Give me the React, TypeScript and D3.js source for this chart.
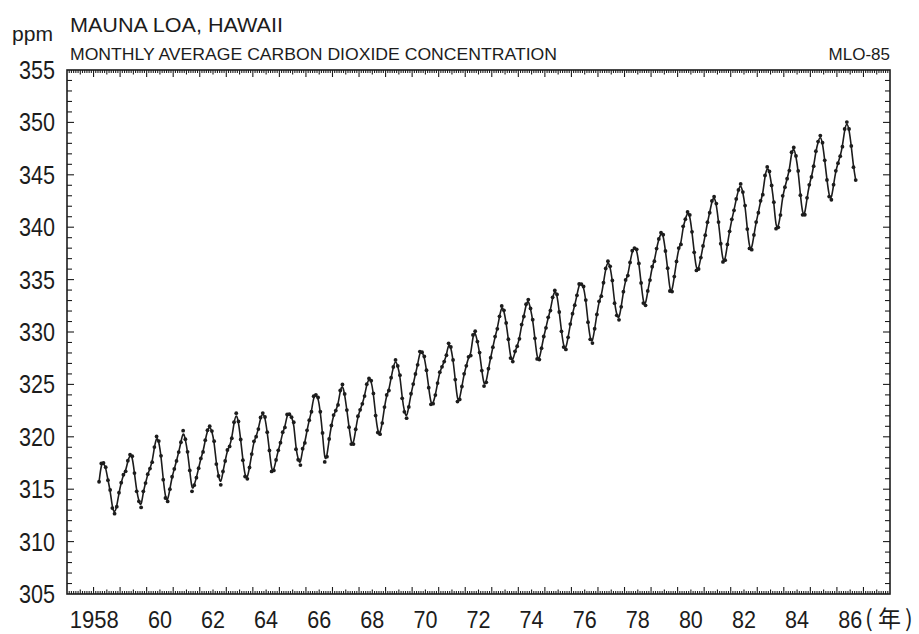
import React from 'react';
import * as d3 from 'd3';

// monthly means, Mar 1958 .. Sep 1986 (ppm)
const firstYear = 1958;
const firstMonth = 3;
const monthlyPpm = [
  315.71, 317.45, 317.5, 317.1, 315.86, 314.93, 313.2, 312.66, 313.33, 314.67, // 1958
  315.62, 316.38, 316.71, 317.72, 318.29, 318.15, 316.54, 314.8, 313.84, 313.26, 314.8, 315.58, // 1959
  316.43, 316.97, 317.58, 319.02, 320.03, 319.59, 318.18, 315.91, 314.16, 313.83, 315.0, 316.19, // 1960
  316.93, 317.7, 318.54, 319.48, 320.58, 319.77, 318.57, 316.79, 314.8, 315.38, 316.1, 317.01, // 1961
  317.94, 318.56, 319.68, 320.63, 321.01, 320.55, 319.58, 317.4, 316.26, 315.42, 316.69, 317.69, // 1962
  318.74, 319.08, 319.86, 321.39, 322.25, 321.47, 319.74, 317.77, 316.21, 315.99, 317.07, 318.35, // 1963
  319.57, 320.01, 320.74, 321.84, 322.26, 321.89, 320.44, 318.7, 316.7, 316.79, 317.79, 318.71, // 1964
  319.44, 320.44, 320.89, 322.13, 322.16, 321.87, 321.39, 318.81, 317.81, 317.3, 318.87, 319.42, // 1965
  320.62, 321.59, 322.39, 323.87, 324.01, 323.75, 322.39, 320.37, 317.6, 318.1, 319.79, 321.08, // 1966
  322.07, 322.5, 323.04, 324.42, 325.0, 324.09, 322.55, 320.92, 319.31, 319.31, 320.72, 321.96, // 1967
  322.57, 323.15, 323.89, 325.02, 325.57, 325.36, 324.14, 322.03, 320.41, 320.25, 321.31, 322.84, // 1968
  324.0, 324.42, 325.64, 326.66, 327.34, 326.76, 325.88, 323.67, 322.38, 321.78, 322.85, 324.11, // 1969
  325.03, 325.99, 326.87, 328.13, 328.07, 327.66, 326.35, 324.69, 323.1, 323.16, 323.98, 325.13, // 1970
  326.17, 326.68, 327.18, 327.78, 328.92, 328.57, 327.34, 325.46, 323.36, 323.57, 324.8, 326.01, // 1971
  326.77, 327.63, 327.75, 329.72, 330.07, 329.09, 328.04, 326.32, 324.84, 325.2, 326.5, 327.55, // 1972
  328.55, 329.56, 330.3, 331.5, 332.48, 332.07, 330.87, 329.31, 327.51, 327.18, 328.16, 328.64, // 1973
  329.35, 330.71, 331.48, 332.65, 333.09, 332.25, 331.18, 329.4, 327.43, 327.37, 328.46, 329.57, // 1974
  330.4, 331.4, 332.04, 333.31, 333.96, 333.59, 331.91, 330.06, 328.56, 328.34, 329.49, 330.76, // 1975
  331.75, 332.56, 333.5, 334.58, 334.57, 334.34, 333.05, 330.94, 329.3, 328.94, 330.31, 331.68, // 1976
  332.93, 333.42, 334.7, 336.07, 336.75, 336.27, 334.92, 332.75, 331.59, 331.16, 332.4, 333.85, // 1977
  334.97, 335.38, 336.64, 337.76, 338.01, 337.89, 336.54, 334.68, 332.76, 332.55, 333.92, 334.95, // 1978
  336.23, 336.76, 337.96, 338.88, 339.47, 339.29, 337.73, 336.09, 333.91, 333.86, 335.29, 336.73, // 1979
  338.01, 338.36, 340.08, 340.77, 341.46, 341.17, 339.56, 337.6, 335.88, 336.01, 337.1, 338.21, // 1980
  339.24, 340.48, 341.38, 342.51, 342.91, 342.25, 340.49, 338.43, 336.69, 336.85, 338.36, 339.61, // 1981
  340.75, 341.61, 342.7, 343.56, 344.13, 343.35, 342.06, 339.82, 337.97, 337.86, 339.26, 340.49, // 1982
  341.38, 342.52, 343.1, 344.94, 345.75, 345.32, 343.99, 342.39, 339.86, 339.99, 341.16, 342.99, // 1983
  343.82, 344.63, 345.4, 347.15, 347.61, 346.8, 345.37, 343.06, 341.18, 341.19, 342.8, 344.04, // 1984
  344.79, 345.82, 347.25, 348.17, 348.74, 348.07, 346.38, 344.51, 342.92, 342.62, 344.06, 345.38, // 1985
  346.11, 346.78, 347.68, 349.37, 350.03, 349.37, 347.76, 345.73, 344.5 // 1986
];

const yTicks = [305, 310, 315, 320, 325, 330, 335, 340, 345, 350, 355];
const yearLabels = [1958, 1960, 1962, 1964, 1966, 1968, 1970, 1972, 1974, 1976, 1978, 1980, 1982, 1984, 1986];

const W = 919;
const H = 634;
const left = 67, right = 890, top = 70, bottom = 594;
const ink = '#1c1c1c';
const font = '"Liberation Sans", Arial, sans-serif';

export default function App() {
  const x = d3.scaleLinear().domain([1957, 1988]).range([left, right]);
  const y = d3.scaleLinear().domain([305, 355]).range([bottom, top]);

  const points = monthlyPpm.map((v, i) => {
    const m = firstMonth - 1 + i;
    return { t: firstYear + (m + 0.5) / 12, v };
  });

  const line = d3
    .line<{ t: number; v: number }>()
    .x(d => x(d.t))
    .y(d => y(d.v))
    .curve(d3.curveBasis);

  // monthly ticks along top and bottom
  const monthTicks = d3.range(1, 31 * 12).map(i => ({
    t: 1957 + i / 12,
    len: i % 12 === 0 ? 7 : i % 6 === 0 ? 4.5 : 3
  }));
  const ppmTicks = d3.range(306, 355).map(v => ({ v, len: v % 5 === 0 ? 7 : 5 }));

  return (
    <svg
      width={W}
      height={H}
      style={{ position: 'absolute', left: 0, top: 0, background: '#fff' }}
      fontFamily={font}
      fill={ink}
    >
      <text x={70} y={32} fontSize={20} textLength={213} lengthAdjust="spacingAndGlyphs">
        MAUNA LOA, HAWAII
      </text>
      <text x={12} y={41} fontSize={20} textLength={41} lengthAdjust="spacingAndGlyphs">
        ppm
      </text>
      <text x={70} y={60} fontSize={16} textLength={487} lengthAdjust="spacingAndGlyphs">
        MONTHLY AVERAGE CARBON DIOXIDE CONCENTRATION
      </text>
      <text x={890} y={60} fontSize={17} textAnchor="end">
        MLO-85
      </text>

      <rect x={left} y={top} width={right - left} height={bottom - top} fill="none" stroke={ink} strokeWidth={1.6} />

      <g stroke={ink} strokeWidth={1.1}>
        {monthTicks.map((d, i) => (
          <g key={i}>
            <line x1={x(d.t)} x2={x(d.t)} y1={bottom} y2={bottom - d.len} />
            <line x1={x(d.t)} x2={x(d.t)} y1={top} y2={top + d.len} />
          </g>
        ))}
        {ppmTicks.map(d => (
          <g key={d.v}>
            <line x1={left} x2={left + d.len} y1={y(d.v)} y2={y(d.v)} />
            <line x1={right} x2={right - d.len} y1={y(d.v)} y2={y(d.v)} />
          </g>
        ))}
      </g>

      {yTicks.map(v => (
        <text key={v} x={55} y={y(v) + 9} fontSize={25} textAnchor="end" textLength={36} lengthAdjust="spacingAndGlyphs">
          {v}
        </text>
      ))}

      {yearLabels.map(yr => {
        const label = yr === 1958 ? '1958' : String(yr).slice(2);
        const cx = x(yr + 0.5);
        return yr === 1958 ? (
          <text key={yr} x={cx + 12} y={628} fontSize={24} textAnchor="end" textLength={49} lengthAdjust="spacingAndGlyphs">
            {label}
          </text>
        ) : (
          <text key={yr} x={cx} y={628} fontSize={24} textAnchor="middle" textLength={24} lengthAdjust="spacingAndGlyphs">
            {label}
          </text>
        );
      })}
      <text y={627} fontSize={23} fontFamily='"Noto Sans CJK JP", sans-serif'>
        <tspan x={865}>(</tspan>
        <tspan x={878}>年</tspan>
        <tspan x={905}>)</tspan>
      </text>

      <path d={line(points) ?? ''} fill="none" stroke={ink} strokeWidth={1.6} />
      {points.map((d, i) => (
        <circle key={i} cx={x(d.t)} cy={y(d.v)} r={1.9} fill={ink} />
      ))}
    </svg>
  );
}
